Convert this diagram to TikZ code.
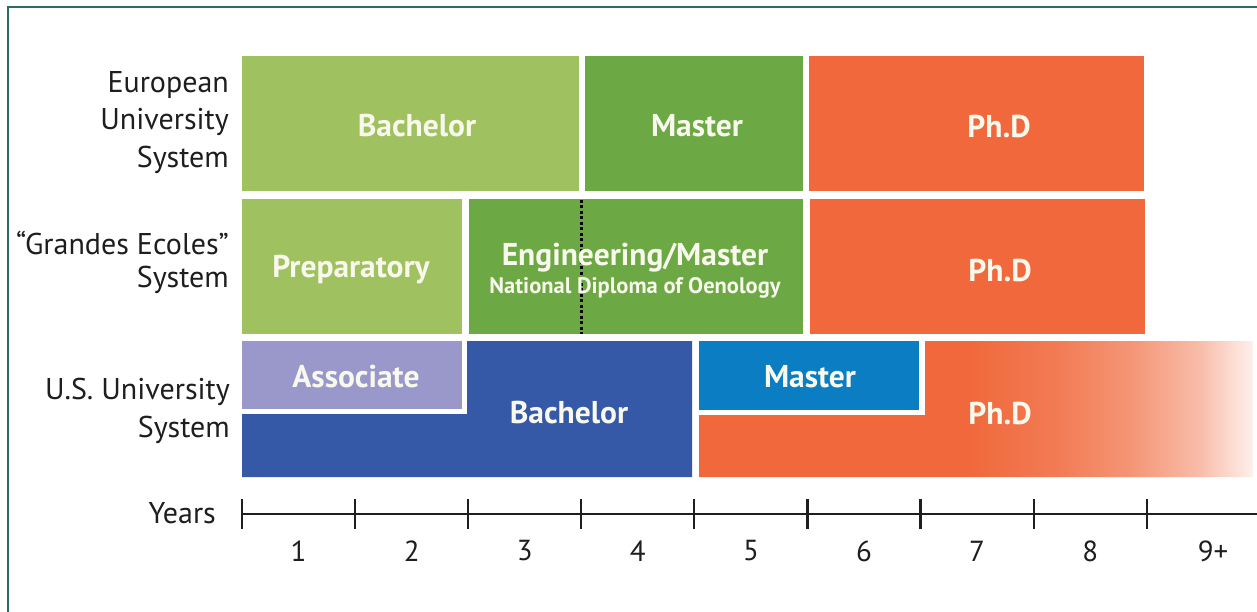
\documentclass[tikz,border=0pt]{standalone}
\usepackage{fontspec}
\setmainfont{PT Sans}
\definecolor{lgreen}{HTML}{A0C15F}
\definecolor{mgreen}{HTML}{6CA843}
\definecolor{orng}{HTML}{F0683B}
\definecolor{lav}{HTML}{9A98CB}
\definecolor{dblue}{HTML}{3558A7}
\definecolor{mblue}{HTML}{0B7DC3}
\definecolor{txtw}{HTML}{F8F8EC}
\definecolor{frame}{HTML}{2A6E63}
\definecolor{ink}{HTML}{1E1E1E}
\pgfdeclarehorizontalshading{phdfade}{100bp}{color(0bp)=(orng); color(49bp)=(orng); color(57bp)=(orng!88); color(64bp)=(orng!70); color(70bp)=(orng!45); color(75bp)=(orng!10); color(100bp)=(orng!10)}
\begin{document}
\begin{tikzpicture}[x=1pt,y=-1pt,
  boxlbl/.style={text=txtw,font=\bfseries\fontsize{31.5}{33}\selectfont,inner sep=0pt,anchor=center},
  sublbl/.style={text=txtw,font=\bfseries\fontsize{22.5}{24}\selectfont,inner sep=0pt,anchor=center},
  sidelbl/.style={text=ink,font=\fontsize{30}{32}\selectfont,inner sep=0pt,anchor=east},
  yearlbl/.style={text=ink,font=\fontsize{29}{31}\selectfont,inner sep=0pt,anchor=center},
  axisline/.style={draw=ink,line width=2.2pt}]
\useasboundingbox (0,0) rectangle (1257,612);
\fill[white] (0,0) rectangle (1257,612);
% frame
\draw[frame,line width=2pt] (8,612) -- (8,7) -- (1257,7);
% row 1
\fill[lgreen] (242,56) rectangle (579,191);
\fill[mgreen] (585,56) rectangle (803,191);
\fill[orng] (809,56) rectangle (1144,191);
% row 2
\fill[lgreen] (242,199) rectangle (462,334);
\fill[mgreen] (469,199) rectangle (803,334);
\fill[orng] (810,199) rectangle (1145,334);
\draw[black,line width=2.2pt,dash pattern=on 3pt off 2.5pt] (581.5,200) -- (581.5,334);
% row 3
\fill[lav] (242,341) rectangle (462,409);
\fill[dblue] (242,414) -- (467,414) -- (467,341) -- (692,341) -- (692,477) -- (242,477) -- cycle;
\fill[mblue] (699,341) rectangle (919,410);
\shade[shading=phdfade] (699,477) -- (699,415) -- (925,415) -- (925,341) -- (1253,341) -- (1253,477) -- cycle;
% box labels
\node[boxlbl] (eb) at (417,126) {Bachelor};
\node[boxlbl] (em) at (697,126) {Master};
\node[boxlbl] (ep) at (999,126) {Ph.D};
\node[boxlbl] (gp) at (351,270) {Preparatory};
\node[boxlbl] (ge) at (635,258) {Engineering/Master};
\node[sublbl] (gn) at (635,288) {National Diploma of Oenology};
\node[boxlbl] (gd) at (1000,270) {Ph.D};
\node[boxlbl] (ua) at (356,377) {Associate};
\node[boxlbl] (ub) at (569,413) {Bachelor};
\node[boxlbl] (um) at (810,377) {Master};
\node[boxlbl] (ud) at (1000,413) {Ph.D};
% side labels
\node[sidelbl] (s1) at (229,85) {European};
\node[sidelbl] (s2) at (229,122) {University};
\node[sidelbl] (s3) at (229,160) {System};
\node[sidelbl] (s4) at (229,243) {``Grandes Ecoles''};
\node[sidelbl] (s5) at (229,280) {System};
\node[sidelbl] (s6) at (230,392) {U.S. University};
\node[sidelbl] (s7) at (230,430) {System};
\node[sidelbl] (yl) at (216,513) {Years};
% axis
\coordinate (a0) at (242,514);
\coordinate (aend) at (1257,514);
\draw[axisline] (a0) -- (aend);
\foreach \i in {0,...,8} {
  \draw[axisline] (242+113.09*\i,499) -- (242+113.09*\i,529);
}
\foreach \i/\t in {1/1,2/2,3/3,4/4,5/5,6/6,7/7,8/8} {
  \node[yearlbl] (y\i) at (242+113.09*\i-56.5,551) {\t};
}
\node[yearlbl] (y9) at (1213,551) {9+};
\end{tikzpicture}
\end{document}
